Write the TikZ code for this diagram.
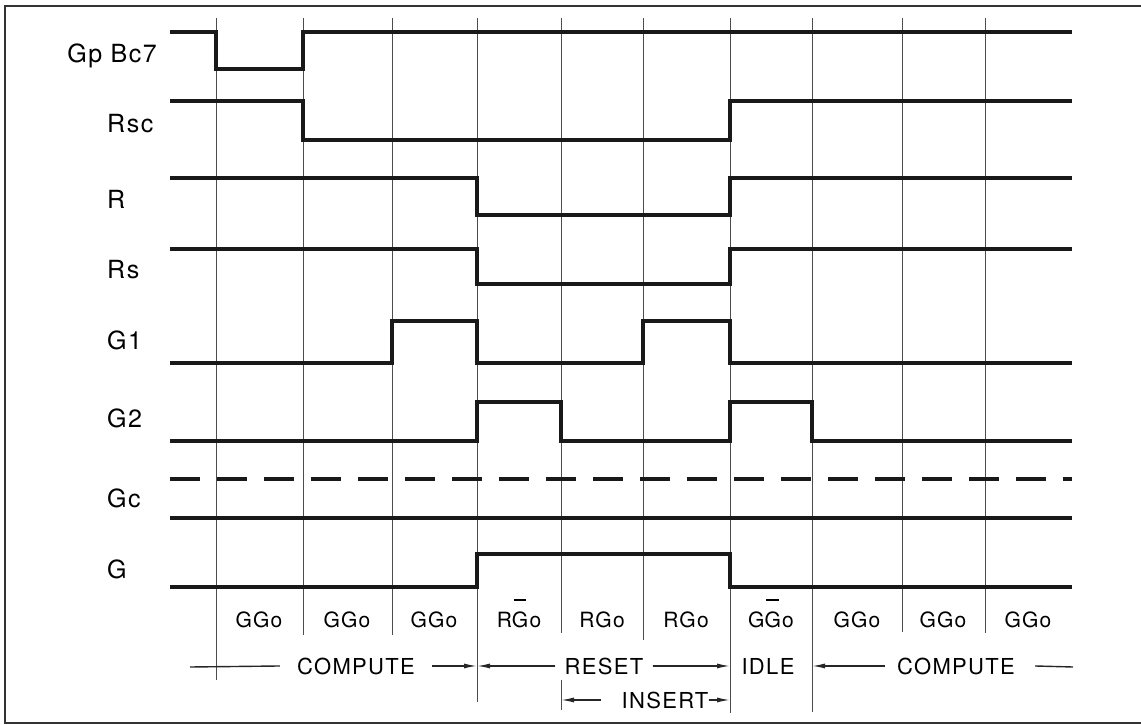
\documentclass[tikz,border=0pt]{standalone}
\usepackage{fontspec}
\setmainfont{TeX Gyre Heros}[LetterSpace=6]
\usepackage{tikz}
\usetikzlibrary{arrows.meta}
\newcommand{\barG}{\makebox[0pt][l]{\hspace{0.09em}\rule[1.25em]{0.6em}{0.09em}}G}

\begin{document}
\begin{tikzpicture}[
  x=1pt, y=-1pt,
  sig/.style={line width=3.6pt, draw=black!90},
  grd/.style={line width=1pt, draw=black!70},
  nm/.style={font=\fontsize{25}{28}\selectfont, anchor=base west, inner sep=0pt},
  cell/.style={font=\fontsize{21}{24}\selectfont, anchor=base, inner sep=0pt},
  ph/.style={font=\fontsize{22}{26}\selectfont, anchor=base, inner xsep=12pt},
  ln/.style={line width=1.4pt, draw=black!85},
  ar/.style={-{Latex[length=13pt,width=5pt]}, line width=1.4pt, draw=black!85, fill=black!85}
]
\useasboundingbox (0,0) rectangle (1141,725);
\draw[line width=1.8pt, black!80] (5,6) rectangle (1145,723);

% time marks
\foreach \x/\b [count=\i] in {216/680,303/635,392/635,477/702,561/633,
                              643/640,730/713,812/712,902/632,985/633}
  \draw[grd] (\x,18) coordinate (t\i) -- (\x,\b) coordinate (b\i);
\draw[grd] (561,680) -- (561,710);

% signal names
\node[nm, anchor=base east] (gpbc) at (157,63) {Gp Bc7};
\node[nm] (rsc) at (107,132) {Rsc};
\node[nm] (r)   at (107,208) {R};
\node[nm] (rs)  at (107,278) {Rs};
\node[nm] (g1)  at (107,349) {G1};
\node[nm] (g2)  at (107,427) {G2};
\node[nm] (gc)  at (107,507) {Gc};
\node[nm] (g)   at (107,578) {G};

% waveforms
\draw[sig] (170,32) -| (216,69) -| (303,32) -- (1072,32);
\draw[sig] (170,101) -| (303,140) -| (730,101) -- (1072,101);
\draw[sig] (170,178) -| (477,215) -| (730,178) -- (1072,178);
\draw[sig] (170,249) -| (477,284) -| (730,249) -- (1072,249);
\draw[sig] (170,363) -| (392,321) -| (477,363) -| (643,321) -| (730,363) -- (1072,363);
\draw[sig] (170,441) -| (477,402) -| (561,441) -| (730,402) -| (812,441) -- (1072,441);
\draw[sig, dash pattern=on 30pt off 17pt] (170,479) -- (1072,479);
\draw[sig] (170,518) -- (1072,518);
\draw[sig] (170,587) -| (477,554) -| (730,587) -- (1072,587);

% cycle names
\node[cell] (c1)  at (259,627) {GGo};
\node[cell] (c2)  at (347,627) {GGo};
\node[cell] (c3)  at (434,627) {GGo};
\node[cell] (c4)  at (519,627) {R\barG o};
\node[cell] (c5)  at (602,627) {RGo};
\node[cell] (c6)  at (686,627) {RGo};
\node[cell] (c7)  at (771,627) {G\barG o};
\node[cell] (c8)  at (857,627) {GGo};
\node[cell] (c9)  at (943,627) {GGo};
\node[cell] (c10) at (1028,627) {GGo};

% phases
\node[ph, inner xsep=17pt] (cmp1) at (356,674) {COMPUTE};
\node[ph, inner xsep=9pt] (rst) at (604,674) {RESET};
\node[ph] (idle) at (768,674) {IDLE};
\node[ph, inner xsep=12pt] (cmp2) at (956,674) {COMPUTE};
\node[ph, inner xsep=0pt] (ins) at (665,708) {INSERT};
\coordinate (cmp1a) at (190,667);
\coordinate (cmp2b) at (1073,667);

\draw[ln] (cmp1a) -- (cmp1.west);
\draw[ar] (cmp1.east) -- (cmp1.east -| b4);
\draw[ar] (rst.west) -- (rst.west -| b4);
\draw[ar] (rst.east) -- (rst.east -| b7);
\draw[ar] (cmp2.west) -- (cmp2.west -| b8);
\draw[ln] ([xshift=8pt]cmp2.east) -- (cmp2b);
\draw[ar] ([xshift=-20pt]ins.west) -- (ins.west -| b5);
\draw[ar] (ins.east) -- (ins.east -| b7);
\end{tikzpicture}
\end{document}
